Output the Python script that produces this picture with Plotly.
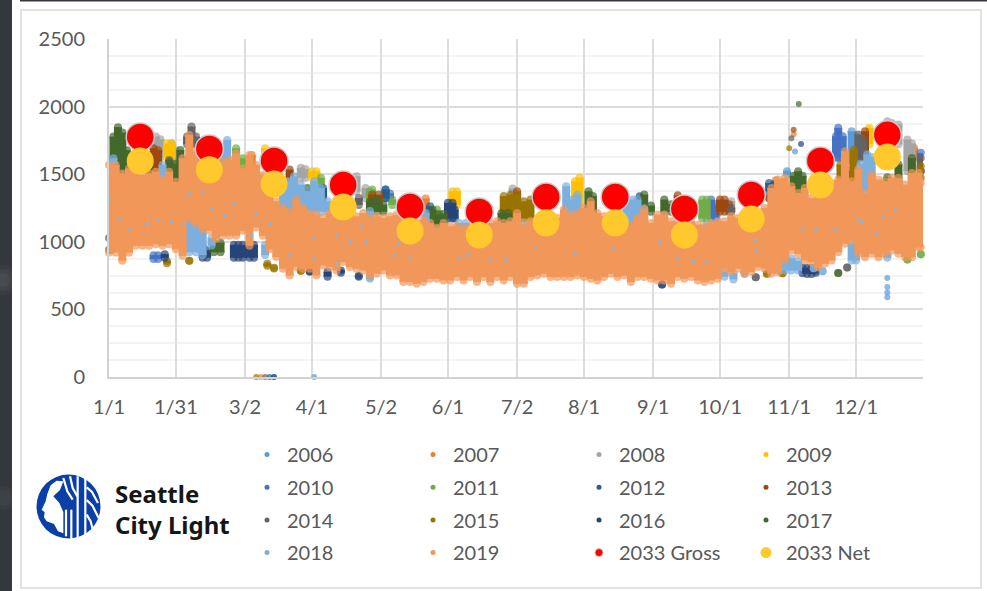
import plotly.graph_objects as go

# ---------- data (day of a leap year, load in MW) ----------
tick_days = [0, 30, 61, 91, 122, 152, 183, 213, 244, 274, 305, 335]
tick_labels = ["1/1", "1/31", "3/2", "4/1", "5/2", "6/1", "7/2", "8/1", "9/1", "10/1", "11/1", "12/1"]

mid_days = [14, 45, 74, 105, 135, 166, 196, 227, 258, 288, 319, 349]
gross_2033 = [1776, 1687, 1598, 1421, 1258, 1221, 1332, 1332, 1243, 1347, 1598, 1791]
net_2033 = [1598, 1532, 1428, 1258, 1080, 1051, 1140, 1140, 1051, 1169, 1421, 1628]

d2019 = list(range(0, 364, 3)) + [364]
hi2019 = [1590,1590,1528,1565,1525,1516,1528,1541,1491,1541,1466,1640,1812,1689,1639,1615,1615,1615,1627,1676,1565,1664,1590,1516,1466,
          1322,1272,1248,1334,1272,1235,1223,1198,1235,1235,1248,1223,1211,1235,1198,1211,1198,1211,1223,1223,1186,1161,1186,1161,1125,
          1161,1137,1137,1124,1137,1149,1124,1161,1174,1161,1174,1235,1137,1174,1186,1211,1211,1198,1260,1223,1235,1272,1322,1235,
          1211,1198,1137,1137,1149,1198,1260,1161,1223,1223,1174,1174,1174,1174,1149,1137,1161,1174,1174,1211,1198,1223,1235,1223,1272,
          1420,1482,1494,1432,1383,1420,1346,1395,1408,1457,1482,1692,1470,1556,1383,1519,1482,1470,1494,1494,1445,1531,1531,1457]
lo2019 = [898,898,837,898,948,948,948,960,948,960,923,874,1145,1110,1071,1059,1000,1022,1022,1022,1059,948,1084,1022,923,
          865,778,729,791,778,778,729,803,791,766,828,791,778,766,729,741,766,729,729,680,680,667,680,704,704,
          692,692,717,692,717,680,717,680,717,692,717,667,667,717,729,741,717,717,717,717,729,717,704,692,
          717,741,717,729,680,717,717,704,692,692,667,717,704,717,692,680,692,704,779,754,779,741,754,791,779,
          741,753,840,914,889,840,827,790,815,840,901,963,988,889,864,889,864,889,914,889,864,864,938,938]

d2018 = [2, 4, 24, 51, 53, 36, 39, 42, 46, 70, 78, 80, 83, 86, 89, 92, 95, 98, 117, 142, 117, 157, 160, 186, 205, 208, 210,
         228, 232, 235, 237, 240, 268, 271, 276, 280, 285, 300, 303, 306, 309, 316, 320, 333, 335, 337, 340, 342, 349]
hi2018 = [1640, 1480, 1590, 1700, 1775, 1200, 1170, 1130, 1050, 1000, 1396, 1470, 1507, 1445, 1396, 1470, 1420, 1322, 1250, 1235, 760, 1161, 1161, 1150, 1433, 1334, 1371,
          1297, 1334, 1334, 1334, 1270, 1150, 1150, 800, 790, 800, 900, 950, 900, 880, 820, 790, 1010, 1010, 1600, 1667, 1650, 930]
lo2018 = [1400, 1380, 1400, 1500, 1500, 900, 900, 880, 950, 880, 1200, 1200, 1200, 1200, 1200, 1200, 1200, 1200, 1100, 1100, 704, 1000, 1000, 1000, 1150, 1150, 1150,
          1100, 1100, 1100, 1100, 1100, 1050, 1050, 720, 700, 740, 765, 765, 765, 765, 790, 775, 840, 840, 1350, 1350, 1350, 860]

d2017 = [2, 4, 6, 8, 18, 27, 30, 32, 34, 47, 50, 89, 117, 120, 123, 145, 148, 150, 176, 179, 215, 217, 240, 243, 249, 252,
         307, 309, 311, 321, 327, 349, 354, 360, 309.3]
hi2017 = [1800, 1870, 1830, 1700, 1590, 1615, 1600, 1701, 1620, 1015, 1015, 1420, 1322, 1334, 1297, 1260, 1223, 1230, 1235, 1235, 1396, 1360, 1371, 1290, 1334, 1300,
          1510, 1544, 1510, 1240, 778, 1500, 1593, 1642, 2020]
lo2017 = [1500, 1500, 1500, 1500, 1450, 1450, 1400, 1400, 1400, 900, 900, 1300, 1200, 1200, 1200, 1100, 1100, 1100, 1100, 1100, 1200, 1200, 1200, 1200, 1200, 1200,
          1300, 1300, 1300, 1200, 760, 1300, 1400, 1400, 2020]

d2016 = [25, 42, 44, 56, 58, 60, 63, 65, 90, 98, 104, 112, 152, 154, 155, 238, 248, 311, 313, 315, 317, 310.3, 74]
hi2016 = [930, 990, 960, 1000, 1000, 1000, 1000, 1000, 790, 800, 810, 770, 1310, 1310, 1260, 1359, 690, 830, 830, 830, 810, 1724, 0]
lo2016 = [860, 860, 860, 860, 860, 860, 860, 860, 770, 720, 750, 720, 1150, 1150, 1150, 1200, 680, 745, 740, 740, 750, 1724, 0]

d2015 = [26, 36, 71, 74, 86, 177, 180, 183, 186, 189, 295, 302, 328, 331, 334, 364, 305, 66]
hi2015 = [880, 880, 860, 830, 800, 1360, 1371, 1371, 1322, 1334, 790, 790, 1593, 1550, 1704, 1581, 1692, 0]
lo2015 = [820, 840, 800, 780, 770, 1150, 1150, 1150, 1150, 1150, 740, 745, 1450, 1450, 1400, 1450, 1692, 0]

d2014 = [0, 1, 27, 35, 37, 39, 112, 279, 290, 331, 336, 338, 364, 306, 70]
hi2014 = [1050, 1000, 1627, 1800, 1874, 1800, 1346, 1272, 745, 820, 1815, 1780, 1642, 1766, 0]
lo2014 = [920, 920, 1500, 1700, 1700, 1700, 1250, 1200, 730, 800, 1600, 1600, 1500, 1766, 0]

d2013 = [20, 22, 81, 118, 121, 183, 255, 274, 276, 278, 296, 337, 339, 307]
hi2013 = [1714, 1700, 1556, 1371, 1371, 1396, 1366, 1334, 1334, 1300, 1346, 1750, 1840, 1828]
lo2013 = [1500, 1500, 1450, 1250, 1250, 1250, 1250, 1200, 1200, 1200, 1300, 1600, 1600, 1828]

d2012 = [96, 144, 296, 298, 124, 72]
hi2012 = [1420, 1285, 1457, 1440, 1408, 0]
lo2012 = [1300, 1200, 1350, 1350, 1300, 0]

d2011 = [57, 60, 95, 117, 118, 127, 147, 266, 268, 358, 364]
hi2011 = [1714, 1640, 1495, 1396, 1408, 1334, 1260, 1334, 1334, 877, 914]
lo2011 = [1500, 1500, 1350, 1250, 1250, 1250, 1150, 1150, 1150, 860, 900]

d2010 = [20, 22, 124, 126, 270, 272, 298, 326, 327, 329, 364]
hi2010 = [923, 923, 1408, 1380, 1334, 1300, 1445, 1803, 1865, 1803, 1680]
lo2010 = [850, 850, 1300, 1300, 1150, 1150, 1350, 1600, 1600, 1600, 1500]

d2009 = [26, 28, 70, 91, 93, 154, 156, 209, 211, 341]
hi2009 = [1751, 1751, 1714, 1544, 1544, 1396, 1396, 1470, 1495, 1865]
lo2009 = [1600, 1600, 1600, 1450, 1450, 1250, 1250, 1250, 1250, 1700]

d2008 = [21, 23, 28, 30, 86, 88, 111, 115, 181, 279, 349, 351, 354, 358, 360]
hi2008 = [1800, 1780, 1751, 1700, 1569, 1560, 1507, 1420, 1416, 1322, 1914, 1900, 1890, 1778, 1750]
lo2008 = [1600, 1600, 1600, 1550, 1450, 1450, 1350, 1300, 1300, 1200, 1700, 1700, 1700, 1500, 1500]

d2007 = [64, 142, 299, 361, 307, 68]
hi2007 = [1664, 1342, 1477, 1716, 1796, 0]
lo2007 = [1500, 1200, 1350, 1600, 1796, 0]

d2006 = [333, 335, 304, 307.6, 349, 349, 349, 349, 74, 92]
hi2006 = [1840, 1800, 1544, 1667, 733, 665, 625, 590, 0, 0]
lo2006 = [1550, 1550, 1480, 1667, 733, 665, 625, 590, 0, 0]

gap_days = [0, 5, 9, 17, 22, 28, 36, 42, 56, 66, 52, 64, 72, 46, 34, 92, 81, 102, 108, 115, 92, 135, 128, 113, 130, 102,
            161, 171, 191, 209, 157, 178, 226, 262, 268, 290, 290.5, 255, 247, 347, 344, 336, 311, 317, 352.5, 337.5, 325.6]
gap_values = [1318, 1170, 1084, 1133, 1158, 1146, 1356, 1368, 1281, 1207, 1195, 1047, 1133, 1244, 1133, 1025, 902, 1050, 1001, 1001, 877, 877, 902, 1112, 988, 840,
              902, 865, 964, 914, 877, 865, 951, 853, 853, 1013, 939, 877, 1001, 1186, 1062, 1161, 1099, 1087, 1235, 1148, 1087]

years = [
    ("2006", d2006, hi2006, lo2006, "#5b9bd5", "legend"),
    ("2007", d2007, hi2007, lo2007, "#ed7d31", "legend2"),
    ("2008", d2008, hi2008, lo2008, "#a5a5a5", "legend3"),
    ("2009", d2009, hi2009, lo2009, "#ffc000", "legend4"),
    ("2010", d2010, hi2010, lo2010, "#4472c4", "legend"),
    ("2011", d2011, hi2011, lo2011, "#70ad47", "legend2"),
    ("2012", d2012, hi2012, lo2012, "#255e91", "legend3"),
    ("2013", d2013, hi2013, lo2013, "#9e480e", "legend4"),
    ("2014", d2014, hi2014, lo2014, "#636363", "legend"),
    ("2015", d2015, hi2015, lo2015, "#997300", "legend2"),
    ("2016", d2016, hi2016, lo2016, "#264478", "legend3"),
    ("2017", d2017, hi2017, lo2017, "#43682b", "legend4"),
    ("2018", d2018, hi2018, lo2018, "#7cafdd", "legend"),
    ("2019", d2019, hi2019, lo2019, "#f1975a", "legend2"),
]

# ---------- layout constants ----------
W, H = 987, 591
L, R, T, B = 109, 923, 39, 377
FONT = "Lato"
GREY = "#595959"
BLUE = "#0b3fa8"
STROKE = 8           # px width of a column of readings
CAP = 22             # MW taken up by the round end of a column

def X(px):
    return (px - L) / (R - L)

def Y(py):
    return (B - py) / (B - T)

def columns(days, hi, lo):
    xs, ys, sizes = [], [], []
    for d, h, l in zip(days, hi, lo):
        if h == l:
            xs += [d, None]
            ys += [h, None]
            sizes += [6, 0]
        else:
            top, bottom = h - CAP, l + CAP
            if top < bottom:
                top = bottom = (h + l) / 2
            xs += [d, d, None]
            ys += [top, bottom, None]
            sizes += [STROKE, STROKE, 0]
    return xs, ys, sizes

fig = go.Figure()

for name, days, hi, lo, color, leg in years:
    xs, ys, sizes = columns(days, hi, lo)
    fig.add_trace(go.Scatter(
        x=xs, y=ys, mode="lines+markers", name=name, showlegend=False, cliponaxis=False,
        line=dict(color=color, width=STROKE), marker=dict(color=color, size=sizes, line=dict(width=0)),
        connectgaps=False, hoverinfo="skip",
    ))

fig.add_trace(go.Scatter(
    x=gap_days, y=gap_values, mode="markers", showlegend=False, name="2018 behind 2019",
    marker=dict(color="#8db5da", size=3.5, line=dict(width=0)), hoverinfo="skip",
))
fig.add_trace(go.Scatter(
    x=mid_days, y=gross_2033, mode="markers", name="2033 Gross", showlegend=False,
    marker=dict(color="#ff0000", size=28, line=dict(color="#c9c9c9", width=1.5)),
))
fig.add_trace(go.Scatter(
    x=mid_days, y=net_2033, mode="markers", name="2033 Net", showlegend=False,
    marker=dict(color="#ffc92e", size=27, line=dict(width=0)),
))

# legend keys: one column of keys per plotly legend
for name, days, hi, lo, color, leg in years:
    fig.add_trace(go.Scatter(
        x=[None], y=[None], mode="markers", name=name, legend=leg, legendgroup=name,
        marker=dict(color=color, size=5, line=dict(width=0)),
    ))
fig.add_trace(go.Scatter(
    x=[None], y=[None], mode="markers", name="2033 Gross", legend="legend3", legendgroup="g",
    marker=dict(color="#ff0000", size=8, line=dict(color="#c9c9c9", width=1)),
))
fig.add_trace(go.Scatter(
    x=[None], y=[None], mode="markers", name="2033 Net", legend="legend4", legendgroup="n",
    marker=dict(color="#ffc92e", size=11, line=dict(width=0)),
))

def legend(text_x):
    return dict(
        x=X(text_x - 40), y=Y(435), xanchor="left", yanchor="top", orientation="v",
        bgcolor="rgba(0,0,0,0)", font=dict(family=FONT, size=20, color=GREY),
        tracegroupgap=3.7, itemclick=False, itemdoubleclick=False, traceorder="grouped",
    )

def path(points, close=True):
    s = "M" + " L".join(f"{X(30 + a / 3):.4f},{Y(468 + b / 3):.4f}" for a, b in points)
    return s + (" Z" if close else "")

def logo_line(points, width=2.2):
    return dict(type="path", xref="paper", yref="paper", path=path(points, False),
                line=dict(color="white", width=width), layer="above")

def blob(cx, cy, r, alpha):
    return dict(type="circle", xref="paper", yref="paper", x0=X(cx - r), x1=X(cx + r), y0=Y(cy - r), y1=Y(cy + r),
                fillcolor=f"rgba(150,150,150,{alpha})", line_width=0, layer="below")

shapes = [
    dict(type="rect", xref="paper", yref="paper", x0=X(0), x1=X(12), y0=Y(0), y1=Y(H), fillcolor="#34373c", line_width=0, layer="below"),
    dict(type="rect", xref="paper", yref="paper", x0=X(0), x1=X(W), y0=Y(0), y1=Y(1.5), fillcolor="#34373c", line_width=0, layer="below"),
    blob(3, 280, 15, 0.06), blob(3, 280, 11, 0.08), blob(3, 280, 7, 0.1),
    blob(4, 498, 12, 0.05), blob(4, 498, 8, 0.06),
    dict(type="rect", xref="paper", yref="paper", x0=X(12), x1=X(20), y0=Y(0), y1=Y(H), fillcolor="white", line_width=0, layer="below"),
    dict(type="rect", xref="paper", yref="paper", x0=X(21), x1=X(981), y0=Y(10), y1=Y(588), line=dict(color="#e2e2e2", width=2), layer="below"),
    # Seattle City Light mark
    dict(type="circle", xref="paper", yref="paper", x0=X(36.5), x1=X(100.5), y0=Y(474.5), y1=Y(538.5), fillcolor=BLUE, line_width=0, layer="above"),
    dict(type="path", xref="paper", yref="paper", fillcolor="white", line_width=0, layer="above",
         path=path([(80, 38), (62, 52), (52, 78), (47, 100), (35, 125), (44, 133), (42, 148), (50, 160), (72, 168),
                    (84, 190), (100, 196), (100, 132), (88, 105), (70, 85), (90, 66), (100, 40)])),
    logo_line([(100, 30), (112, 70), (128, 95)]),
    logo_line([(120, 25), (128, 60), (142, 85)]),
    logo_line([(108, 125), (108, 205)]),
    logo_line([(124, 125), (124, 212)]),
    logo_line([(143, 25), (143, 212)]),
    logo_line([(166, 30), (166, 205)]),
    logo_line([(170, 58), (186, 72), (204, 105)]),
    logo_line([(170, 96), (188, 114), (206, 150)]),
    logo_line([(170, 140), (182, 160), (188, 184)]),
]

annotations = [
    dict(text="<b>Seattle<br>City Light</b>", xref="paper", yref="paper", x=X(113), y=Y(508.5), xanchor="left", yanchor="middle",
         align="left", showarrow=False, font=dict(family="Noto Sans", size=24, color="#161616")),
]

fig.update_layout(
    width=W, height=H, autosize=False,
    margin=dict(l=L, r=W - R, t=T, b=H - B, pad=0),
    paper_bgcolor="white", plot_bgcolor="rgba(0,0,0,0)",
    font=dict(family=FONT, size=20, color=GREY),
    xaxis=dict(range=[0, 365], tickvals=tick_days, ticktext=tick_labels, showgrid=True, gridcolor="#dcdcdc", gridwidth=2,
               showline=True, linecolor="#d2d2d2", linewidth=2, zeroline=False, ticks="", ticklabelstandoff=11,
               tickfont=dict(family=FONT, size=20, color=GREY)),
    yaxis=dict(range=[0, 2500], tick0=0, dtick=500, showgrid=True, gridcolor="#dcdcdc", gridwidth=2,
               minor=dict(dtick=125, showgrid=True, gridcolor="#f3f3f3", gridwidth=2, ticks=""),
               showline=True, linecolor="#d2d2d2", linewidth=2, zeroline=False, ticks="", ticklabelstandoff=18,
               tickfont=dict(family=FONT, size=20, color=GREY)),
    legend=legend(287), legend2=legend(453), legend3=legend(619), legend4=legend(786),
    shapes=shapes, annotations=annotations, showlegend=True, hovermode=False,
)

fig.write_html("out.html", config=dict(displayModeBar=False),
               post_script="document.body.style.margin='0';document.body.style.overflow='hidden';")
